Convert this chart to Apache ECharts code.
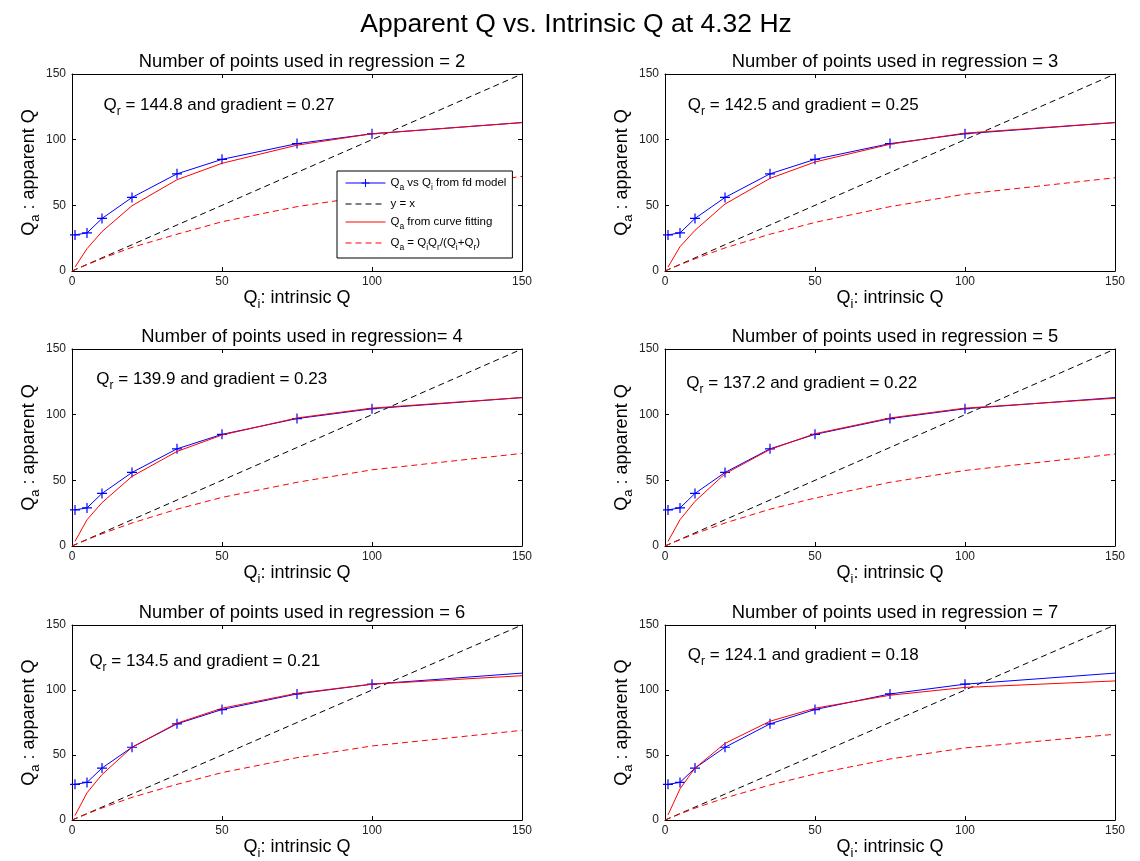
<!DOCTYPE html>
<html><head><meta charset="utf-8">
<script src="https://cdn.jsdelivr.net/npm/echarts@6/dist/echarts.min.js"></script>
<style>html,body{margin:0;padding:0;background:#fff}#c{width:1140px;height:861px}</style>
</head><body><div id="c"></div>
<script>
// ---------- data ----------
const mainTitle = 'Apparent Q vs. Intrinsic Q at 4.32 Hz';
const panelPoints = [2, 3, 4, 5, 6, 7];
const panelTitles = [
  'Number of points used in regression = 2',
  'Number of points used in regression = 3',
  'Number of points used in regression= 4',
  'Number of points used in regression = 5',
  'Number of points used in regression = 6',
  'Number of points used in regression = 7'
];
const qrValues = ['144.8', '142.5', '139.9', '137.2', '134.5', '124.1'];
const gradients = ['0.27', '0.25', '0.23', '0.22', '0.21', '0.18'];
const annotX = [10.5, 7.6, 8.1, 7.1, 5.8, 7.6];
const annotY = [126, 126, 127, 124, 122, 127];

const xTicks = [0, 50, 100, 150];
const yTicks = [0, 50, 100, 150];

// intrinsic Q sample points
const qi = [1, 5, 10, 20, 35, 50, 75, 100, 150];
// apparent Q from fd model (same in every panel)
const fdModel = [27.5, 29, 40, 56, 74, 85, 97, 104.5, 113];
// Qa from curve fitting, one per panel
const fit2 = [3, 17, 30, 49.7, 69.5, 82, 95.8, 104.5, 113];
const fit3 = [3, 18.5, 31, 51, 70.5, 83, 96.5, 105, 113];
const fit4 = [3.5, 20, 33, 53, 72, 84.5, 97.5, 105, 113];
const fit5 = [3.5, 20, 34, 55, 73.5, 85.5, 97.5, 105, 112.5];
const fit6 = [3.5, 21, 35, 56, 74.5, 86, 97.5, 104.5, 111];
const fit7 = [4, 24, 40, 59, 76, 86, 96, 102, 107];
// Qa = QiQr/(Qi+Qr), one per panel
const qiDash = [0, 1, 5, 10, 20, 35, 50, 75, 100, 150];
const dash2 = [0, 1, 4.8, 9.5, 18, 28, 37.5, 49, 57.5, 72];
const dash3 = [0, 1, 4.8, 9.3, 17.6, 28, 37, 49, 58.5, 71];
const dash4 = [0, 1, 4.8, 9.3, 17.5, 28, 37, 48.5, 58, 70.5];
const dash5 = [0, 1, 4.8, 9.3, 17.5, 28, 36.5, 48.5, 57.5, 70];
const dash6 = [0, 1, 4.8, 9.3, 17.5, 27.5, 36.5, 48, 57, 69];
const dash7 = [0, 1, 4.8, 9.2, 17, 27, 35.5, 47, 55.5, 66];
// y = x reference line
const diagX = [0, 150];
const diagY = [0, 150];

const fits = [fit2, fit3, fit4, fit5, fit6, fit7];
const dashes = [dash2, dash3, dash4, dash5, dash6, dash7];

// ---------- layout ----------
const colLeft = [72, 665];
const colWidth = [450, 450];
const rowTop = [74, 349, 625];
const plotH = 197;

const FONT = '"Liberation Sans", Arial, Helvetica, sans-serif';
const plusPath = 'path://M4.4,0 L5.6,0 L5.6,4.4 L10,4.4 L10,5.6 L5.6,5.6 L5.6,10 L4.4,10 L4.4,5.6 L0,5.6 L0,4.4 L4.4,4.4 Z';
const clear = 'rgba(0,0,0,0)';
const zip = (a, b) => a.map((v, i) => [v, b[i]]);

const grids = [], xAxes = [], yAxes = [], series = [], titles = [];
titles.push({ text: mainTitle, left: 571, top: 6, textAlign: 'center',
  textStyle: { fontFamily: FONT, fontSize: 26.5, fontWeight: 'normal', color: '#000' } });

const richAxis = {
  n: { fontFamily: FONT, fontSize: 18, color: '#000' },
  s: { fontFamily: FONT, fontSize: 13, color: '#000', verticalAlign: 'bottom', padding: [0, 0, -4, 0] }
};

for (let p = 0; p < 6; p++) {
  const col = p % 2, row = Math.floor(p / 2);
  const left = colLeft[col], top = rowTop[row], w = colWidth[col];
  grids.push({ left: left, top: top, width: w, height: plotH, show: false });
  titles.push({ text: panelTitles[p], left: left + w / 2, top: top - 26, textAlign: 'center',
    textStyle: { fontFamily: FONT, fontSize: 18.4, fontWeight: 'normal', color: '#000' } });
  const axLine = { show: true, onZero: false, lineStyle: { color: '#000', width: 1 } };
  const tick = { show: true, inside: true, length: 4, lineStyle: { color: '#000' } };
  xAxes.push({ type: 'value', gridIndex: p, position: 'bottom', min: 0, max: 150, interval: 50,
    axisLine: axLine, axisTick: tick, splitLine: { show: false },
    axisLabel: { fontFamily: FONT, fontSize: 12, color: '#222', margin: 5,
      customValues: xTicks },
    name: '{n|Q}{s|i}{n|: intrinsic Q}', nameLocation: 'middle', nameGap: 10,
    nameTextStyle: { rich: richAxis } });
  xAxes.push({ type: 'value', gridIndex: p, position: 'top', min: 0, max: 150, interval: 50,
    axisLine: axLine, axisTick: tick, axisLabel: { show: false }, splitLine: { show: false } });
  yAxes.push({ type: 'value', gridIndex: p, position: 'left', min: 0, max: 150, interval: 50,
    axisLine: axLine, axisTick: tick, splitLine: { show: false },
    axisLabel: { fontFamily: FONT, fontSize: 12, color: '#222', margin: 6, customValues: yTicks },
    name: '{n|Q}{s|a}{n| : apparent Q}', nameLocation: 'middle', nameGap: 33,
    nameTextStyle: { rich: richAxis } });
  yAxes.push({ type: 'value', gridIndex: p, position: 'right', min: 0, max: 150, interval: 50,
    axisLine: axLine, axisTick: tick, axisLabel: { show: false }, splitLine: { show: false } });

  const xi = p * 2, yi = p * 2;
  const modelData = zip(qi, fdModel).map(d => d[0] >= 150 ? { value: d, symbol: 'none' } : d);
  series.push({ name: 'model', type: 'line', xAxisIndex: xi, yAxisIndex: yi, data: modelData,
    symbol: plusPath, symbolSize: 10, lineStyle: { color: '#0000ff', width: 1 },
    itemStyle: { color: '#0000ff' }, animation: false, z: 3,
    markPoint: {
      symbol: 'circle', symbolSize: 0, animation: false,
      itemStyle: { color: clear },
      data: [{ coord: [annotX[p], annotY[p]] }],
      label: { show: true, position: 'right', distance: 0,
        formatter: '{n|Q}{s|r}{n| = ' + qrValues[p] + ' and gradient = ' + gradients[p] + '}',
        rich: {
          n: { fontFamily: FONT, fontSize: 17, color: '#000' },
          s: { fontFamily: FONT, fontSize: 12, color: '#000', verticalAlign: 'bottom', padding: [0, 0, -4, 0] }
        } }
    } });
  series.push({ name: 'diag', type: 'line', xAxisIndex: xi, yAxisIndex: yi, data: zip(diagX, diagY),
    showSymbol: false, symbol: 'circle', lineStyle: { color: '#000', width: 1, type: [6, 4] },
    itemStyle: { color: clear, borderColor: clear }, silent: true, animation: false, z: 2 });
  series.push({ name: 'fit', type: 'line', xAxisIndex: xi, yAxisIndex: yi, data: zip(qi, fits[p]),
    showSymbol: false, symbol: 'circle', lineStyle: { color: '#ff0000', width: 1 },
    itemStyle: { color: clear, borderColor: clear }, animation: false, z: 4 });
  series.push({ name: 'formula', type: 'line', xAxisIndex: xi, yAxisIndex: yi, data: zip(qiDash, dashes[p]),
    showSymbol: false, symbol: 'circle', lineStyle: { color: '#ff0000', width: 1, type: [6, 4] },
    itemStyle: { color: clear, borderColor: clear }, animation: false, z: 2 });
}

const legendLabels = {
  model: '{n|Q}{s|a}{n| vs Q}{s|i}{n| from fd model}',
  diag: '{n|y = x}',
  fit: '{n|Q}{s|a}{n| from curve fitting}',
  formula: '{n|Q}{s|a}{n| = Q}{s|i}{n|Q}{s|r}{n|/(Q}{s|i}{n|+Q}{s|r}{n|)}'
};

const chart = echarts.init(document.getElementById('c'), null, { renderer: 'canvas' });
chart.setOption({
  backgroundColor: '#fff',
  animation: false,
  title: titles,
  grid: grids,
  xAxis: xAxes,
  yAxis: yAxes,
  legend: {
    data: ['model', 'diag', 'fit', 'formula'],
    orient: 'vertical', left: 337, top: 171,
    itemWidth: 40, itemHeight: 10, itemGap: 6,
    padding: [6, 6, 6, 8],
    backgroundColor: '#fff', borderColor: '#000', borderWidth: 1, borderRadius: 0,
    selectedMode: false,
    lineStyle: { width: 1 },
    formatter: n => legendLabels[n],
    textStyle: { rich: {
      n: { fontFamily: FONT, fontSize: 11.5, color: '#000' },
      s: { fontFamily: FONT, fontSize: 8.5, color: '#000', verticalAlign: 'bottom', padding: [0, 0, -3, 0] }
    } }
  },
  series: series
});
</script></body></html>
